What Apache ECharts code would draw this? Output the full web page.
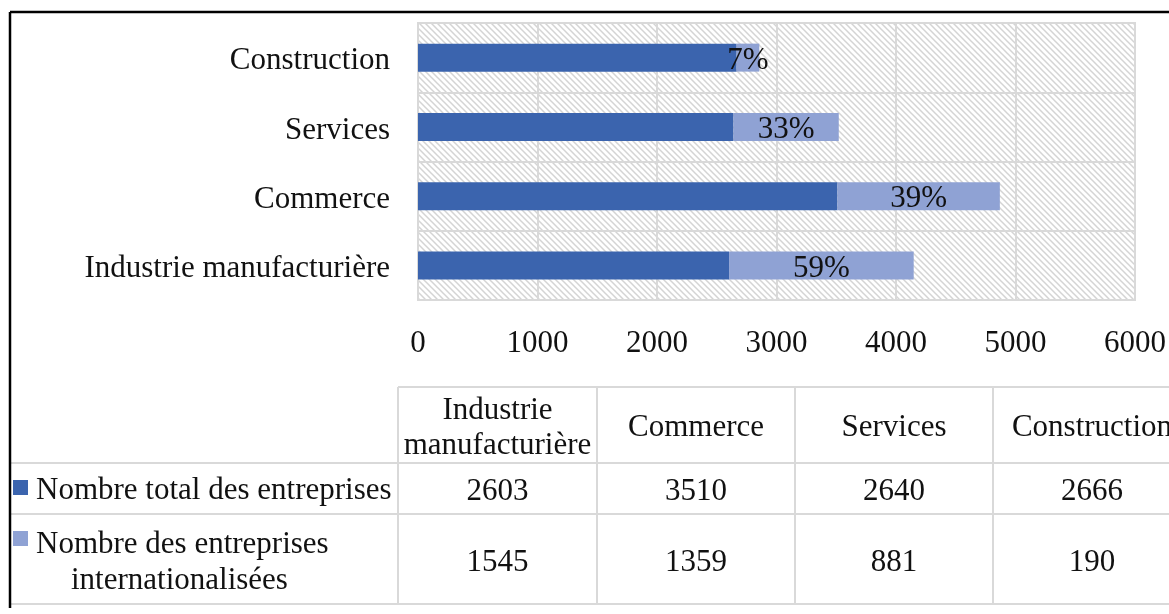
<!DOCTYPE html>
<html>
<head>
<meta charset="utf-8">
<script src="https://cdn.jsdelivr.net/npm/echarts@6/dist/echarts.min.js"></script>
<style>
  html, body { margin: 0; padding: 0; background: #fff; }
  #chart { width: 1169px; height: 614px; }
</style>
</head>
<body>
<div id="chart"></div>
<script>
// ---- Data ----
var categories = ['Industrie manufacturière', 'Commerce', 'Services', 'Construction'];
var totalCounts = [2603, 3510, 2640, 2666];
var intlCounts = [1545, 1359, 881, 190];
var seriesNames = ['Nombre total des entreprises', 'Nombre des entreprises internationalisées'];
var xTicks = [0, 1000, 2000, 3000, 4000, 5000, 6000];
var headerLabels = ['Industrie\nmanufacturière', 'Commerce', 'Services', 'Construction'];

var percentLabels = intlCounts.map(function (v, i) {
  return Math.round(v / totalCounts[i] * 100) + '%';
});

// ---- Styles ----
var FONT = "'Liberation Serif', 'Times New Roman', serif";
var FS = 31;
var TXT = '#111111';
var DARK = '#3b64ae';
var LIGHT = '#8fa2d4';
var GRID_LINE = '#d9d9d9';

// hatch pattern
var s = 6;
var pc = document.createElement('canvas');
pc.width = s; pc.height = s;
var ctx = pc.getContext('2d');
ctx.fillStyle = '#ffffff';
ctx.fillRect(0, 0, s, s);
ctx.strokeStyle = '#d4d4d4';
ctx.lineWidth = 1.5;
ctx.beginPath();
ctx.moveTo(-1, -1); ctx.lineTo(s + 1, s + 1);
ctx.moveTo(-1, s - 1); ctx.lineTo(1, s + 1);
ctx.moveTo(s - 1, -1); ctx.lineTo(s + 1, 1);
ctx.stroke();

// ---- Table graphic ----
var colX = [398, 597, 795, 993, 1191];
var rowY = [387, 463, 514, 604];
var graphics = [];
function line(x1, y1, x2, y2, color, w) {
  graphics.push({ type: 'line', silent: true, shape: { x1: x1, y1: y1, x2: x2, y2: y2 },
    style: { stroke: color, lineWidth: w } });
}
function text(t, x, y, align, lh) {
  graphics.push({ type: 'text', silent: true, x: x, y: y,
    style: { text: t, fontSize: FS, fontFamily: FONT, fill: TXT,
      align: align || 'center', verticalAlign: 'middle', lineHeight: lh || 35 } });
}
// table lines
line(colX[0], rowY[0], 1169, rowY[0], GRID_LINE, 2);
for (var r = 1; r < rowY.length; r++) line(10, rowY[r], 1169, rowY[r], GRID_LINE, 2);
for (var c = 0; c < colX.length; c++) line(colX[c], rowY[0], colX[c], rowY[3], GRID_LINE, 2);
// header
for (var i = 0; i < headerLabels.length; i++) {
  text(headerLabels[i], (colX[i] + colX[i + 1]) / 2, 428, 'center', 35);
}
// values
for (var i = 0; i < categories.length; i++) {
  text(String(totalCounts[i]), (colX[i] + colX[i + 1]) / 2, 492);
  text(String(intlCounts[i]), (colX[i] + colX[i + 1]) / 2, 563);
}
// legend keys + row labels
graphics.push({ type: 'rect', silent: true, shape: { x: 13, y: 480, width: 15, height: 15 }, style: { fill: DARK } });
graphics.push({ type: 'rect', silent: true, shape: { x: 13, y: 531, width: 15, height: 15 }, style: { fill: LIGHT } });
text(seriesNames[0], 36, 491, 'left');
text('Nombre des entreprises', 36, 545, 'left');
text('internationalisées', 71, 581, 'left');
// frame
line(10, 12, 1169, 12, '#000', 2.5);
line(10, 12, 10, 608, '#000', 2.5);

var chart = echarts.init(document.getElementById('chart'), null, { renderer: 'canvas' });
chart.setOption({
  animation: false,
  backgroundColor: '#ffffff',
  grid: {
    left: 418, top: 23, width: 722, height: 277,
    show: true, borderColor: GRID_LINE, borderWidth: 2,
    backgroundColor: { image: pc, repeat: 'repeat' }
  },
  xAxis: {
    type: 'value', min: xTicks[0], max: xTicks[xTicks.length - 1], interval: 1000,
    axisLine: { show: false }, axisTick: { show: false },
    splitLine: { show: true, lineStyle: { color: GRID_LINE, width: 2 } },
    axisLabel: { fontSize: FS, fontFamily: FONT, color: TXT, margin: 28,
      formatter: function (v) { return String(v); } }
  },
  yAxis: {
    type: 'category', data: categories,
    axisLine: { show: false }, axisTick: { show: false },
    splitLine: { show: true, lineStyle: { color: GRID_LINE, width: 2 } },
    axisLabel: { fontSize: FS, fontFamily: FONT, color: TXT, margin: 28,
      formatter: function (v) { return '{a|' + v + '}'; },
      rich: { a: { fontSize: FS, fontFamily: FONT, color: TXT, padding: [7, 0, 0, 0] } } }
  },
  series: [
    { name: seriesNames[0], type: 'bar', stack: 'a', data: totalCounts, barWidth: 28,
      itemStyle: { color: DARK } },
    { name: seriesNames[1], type: 'bar', stack: 'a', data: intlCounts, barWidth: 28,
      itemStyle: { color: LIGHT },
      label: { show: true, position: 'inside', fontSize: FS, fontFamily: FONT, color: TXT,
        offset: [0, 3],
        formatter: function (p) { return percentLabels[p.dataIndex]; } } }
  ],
  graphic: graphics
});
</script>
</body>
</html>
